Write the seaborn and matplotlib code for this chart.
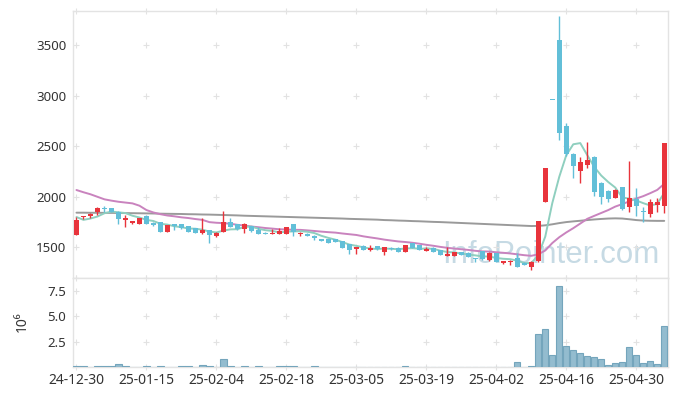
import numpy as np
import pandas as pd
import matplotlib
matplotlib.use("Agg")
import matplotlib.pyplot as plt
import seaborn as sns

# ---------------- data ----------------
tick_labels = ["24-12-30", "25-01-15", "25-02-04", "25-02-18", "25-03-05",
               "25-03-19", "25-04-02", "25-04-16", "25-04-30"]

opens = [1625, 1805, 1810, 1848, 1885, 1886, 1852, 1773, 1745, 1735,
         1808, 1745, 1748, 1655, 1730, 1728, 1712, 1688, 1640, 1670,
         1615, 1655, 1747, 1728, 1680, 1714, 1671, 1645, 1632, 1636,
         1636, 1728, 1632, 1632, 1615, 1582, 1582, 1578, 1562, 1530,
         1480, 1516, 1470, 1513, 1455, 1497, 1497, 1458, 1545, 1523,
         1467, 1497, 1473, 1415, 1415, 1450, 1447, 1394, 1463, 1374,
         1440, 1342, 1352, 1397, 1350, 1302, 1364, 1951, 2960, 3550,
         2700, 2425, 2260, 2310, 2397, 2140, 2060, 1990, 2093, 1902,
         1976, 1860, 1828, 1920, 1912]
highs = [1800, 1815, 1835, 1895, 1908, 1890, 1855, 1820, 1762, 1795,
         1820, 1748, 1750, 1722, 1732, 1735, 1715, 1690, 1787, 1675,
         1650, 1860, 1787, 1730, 1738, 1716, 1700, 1650, 1678, 1690,
         1705, 1735, 1650, 1640, 1618, 1585, 1585, 1585, 1565, 1532,
         1505, 1520, 1523, 1518, 1505, 1500, 1500, 1525, 1548, 1525,
         1506, 1500, 1476, 1506, 1458, 1453, 1450, 1397, 1466, 1450,
         1445, 1370, 1372, 1447, 1355, 1362, 1765, 2285, 2960, 3790,
         2730, 2430, 2397, 2545, 2400, 2145, 2065, 2080, 2095, 2355,
         2090, 1900, 1975, 1985, 2535]
lows = [1620, 1780, 1790, 1820, 1850, 1850, 1728, 1705, 1730, 1733,
        1730, 1715, 1650, 1653, 1672, 1685, 1650, 1640, 1635, 1545,
        1605, 1650, 1700, 1675, 1640, 1648, 1630, 1628, 1628, 1630,
        1632, 1610, 1610, 1612, 1572, 1560, 1545, 1552, 1495, 1432,
        1437, 1470, 1465, 1478, 1425, 1478, 1455, 1455, 1495, 1470,
        1465, 1455, 1420, 1410, 1410, 1425, 1405, 1360, 1378, 1370,
        1355, 1340, 1322, 1305, 1322, 1278, 1360, 1950, 2960, 2560,
        2400, 2185, 2140, 2280, 2010, 1930, 1945, 1985, 1870, 1847,
        1813, 1750, 1797, 1853, 1837]
closes = [1770, 1815, 1830, 1892, 1880, 1853, 1778, 1793, 1760, 1793,
          1735, 1722, 1655, 1720, 1712, 1690, 1655, 1645, 1670, 1622,
          1645, 1747, 1705, 1680, 1734, 1665, 1635, 1635, 1645, 1660,
          1700, 1650, 1645, 1617, 1595, 1565, 1547, 1556, 1497, 1475,
          1500, 1475, 1490, 1480, 1500, 1482, 1458, 1523, 1497, 1475,
          1480, 1458, 1425, 1433, 1453, 1428, 1408, 1382, 1382, 1447,
          1358, 1367, 1362, 1310, 1326, 1358, 1760, 2281, 2960, 2630,
          2425, 2300, 2340, 2365, 2045, 2000, 1980, 2067, 1876, 1986,
          1912, 1845, 1952, 1952, 2530]
volume_m = [0.09, 0.09, 0.02, 0.09, 0.09, 0.09, 0.30, 0.09, 0.02, 0.02,
            0.09, 0.02, 0.09, 0.02, 0.02, 0.09, 0.09, 0.02, 0.20, 0.09,
            0.02, 0.79, 0.09, 0.02, 0.09, 0.02, 0.09, 0.02, 0.02, 0.09,
            0.09, 0.09, 0.02, 0.02, 0.09, 0.02, 0.02, 0.02, 0.02, 0.02,
            0.02, 0.02, 0.02, 0.02, 0.02, 0.02, 0.02, 0.09, 0.02, 0.02,
            0.02, 0.02, 0.02, 0.02, 0.02, 0.02, 0.02, 0.02, 0.02, 0.02,
            0.02, 0.02, 0.02, 0.52, 0.02, 0.09, 3.30, 3.75, 1.18, 8.03,
            2.07, 1.68, 1.41, 1.12, 1.02, 0.79, 0.23, 0.39, 0.52, 1.97,
            1.18, 0.40, 0.62, 0.30, 4.05]
# moving-average values before enough in-range closes exist
ma5_head = [1800, 1772, 1785, 1805]
ma20_head = [2067, 2045, 2025, 2000, 1975, 1962, 1951, 1943, 1935, 1912,
             1869, 1845, 1828, 1815, 1807, 1797, 1790, 1780, 1772]
ma_long = [1843, 1843, 1842, 1842, 1841, 1841, 1840, 1839, 1838, 1837,
           1836, 1835, 1833, 1832, 1831, 1830, 1828, 1827, 1825, 1824,
           1822, 1820, 1818, 1816, 1813, 1811, 1809, 1807, 1805, 1803,
           1801, 1799, 1797, 1795, 1793, 1791, 1789, 1787, 1785, 1782,
           1780, 1778, 1776, 1774, 1770, 1768, 1765, 1763, 1760, 1758,
           1755, 1752, 1750, 1747, 1744, 1741, 1738, 1735, 1732, 1729,
           1726, 1723, 1720, 1717, 1714, 1711, 1712, 1718, 1728, 1740,
           1750, 1757, 1763, 1770, 1776, 1781, 1785, 1787, 1785, 1778,
           1770, 1765, 1763, 1762, 1762]

# ---------------- derived table ----------------
df = pd.DataFrame({"open": opens, "high": highs, "low": lows,
                   "close": closes, "vol": volume_m, "ma_long": ma_long})
df["idx"] = np.arange(len(df))
ma5 = df["close"].rolling(5).mean()
ma5.iloc[:len(ma5_head)] = ma5_head
ma20 = df["close"].rolling(20).mean()
ma20.iloc[:len(ma20_head)] = ma20_head
df["ma5"] = ma5
df["ma20"] = ma20

# ---------------- style ----------------
sns.set_theme(style="white")
plt.rcParams["font.family"] = ["Noto Sans", "DejaVu Sans"]
UP = "#e8343c"
DOWN = "#62bfd8"
SPINE = "#e3e3e3"
CROSS = "#e2e2e2"
TXT = "#333333"

fig = plt.figure(figsize=(6.77, 3.96), dpi=100)
ax = fig.add_axes([0.1083, 0.2987, 0.8780, 0.6743])
axv = fig.add_axes([0.1083, 0.0725, 0.8780, 0.2262])

xlim = (-0.45, 84.5)
xt = list(range(0, 81, 10))

# watermark
ax.text(0.804, 0.086, "InfoPointer.com", transform=ax.transAxes,
        ha="center", va="center", fontsize=22.5, family="Liberation Sans",
        color="#b3cedb", alpha=0.75, zorder=0)

# moving averages
sns.lineplot(data=df, x="idx", y="ma_long", ax=ax, color="#9a9a9a",
             linewidth=1.4, zorder=2)
sns.lineplot(data=df, x="idx", y="ma20", ax=ax, color="#c983be",
             linewidth=1.4, zorder=2)
sns.lineplot(data=df, x="idx", y="ma5", ax=ax, color="#8fcfbf",
             linewidth=1.4, zorder=2)

# candles
up = df["close"] > df["open"]
colors = np.where(up, UP, DOWN)
body_lo = np.minimum(df["open"], df["close"])
body_h = np.maximum((df["close"] - df["open"]).abs(), 6)
ax.vlines(df["idx"], df["low"], df["high"], colors=colors, linewidth=1.0,
          zorder=3)
ax.bar(df["idx"], body_h, bottom=body_lo, width=0.75, color=colors,
       linewidth=0, zorder=4)

ax.set_xlim(*xlim)
ax.set_ylim(1200, 3840)
ax.set_xticks(xt)
ax.set_xticklabels([])
ax.set_yticks([1500, 2000, 2500, 3000, 3500])
ax.set_xlabel("")
ax.set_ylabel("")

# volume
sns.barplot(data=df, x="idx", y="vol", native_scale=True, ax=axv,
            color="#93bccf", edgecolor="#74a5bc", linewidth=0.8,
            width=0.9, saturation=1, errorbar=None, zorder=3)
axv.set_xlim(*xlim)
axv.set_ylim(0, 8.8)
axv.set_xticks(xt)
axv.set_xticklabels(tick_labels)
axv.set_yticks([2.5, 5.0, 7.5])
axv.set_yticklabels(["2.5", "5.0", "7.5"])
axv.set_xlabel("")
axv.set_ylabel("10⁶", fontsize=10, color=TXT)
axv.yaxis.set_label_coords(-0.073, 0.51)

for a in (ax, axv):
    for s in a.spines.values():
        s.set_color(SPINE)
        s.set_linewidth(1.0)
    a.tick_params(axis="both", length=0, colors=TXT)
    a.tick_params(axis="y", labelsize=9.5, pad=5)
    a.tick_params(axis="x", labelsize=10, pad=4)
    a.grid(False)

# grid crosses at tick intersections
for a, yts in ((ax, [1500, 2000, 2500, 3000, 3500]), (axv, [2.5, 5.0, 7.5])):
    y0, y1 = a.get_ylim()
    for xv in xt:
        for yv in list(yts) + [y0, y1]:
            a.plot(xv, yv, marker="+", color=CROSS, markersize=4,
                   markeredgewidth=0.8, clip_on=False, zorder=1)

fig.savefig("out.png", dpi=100)
